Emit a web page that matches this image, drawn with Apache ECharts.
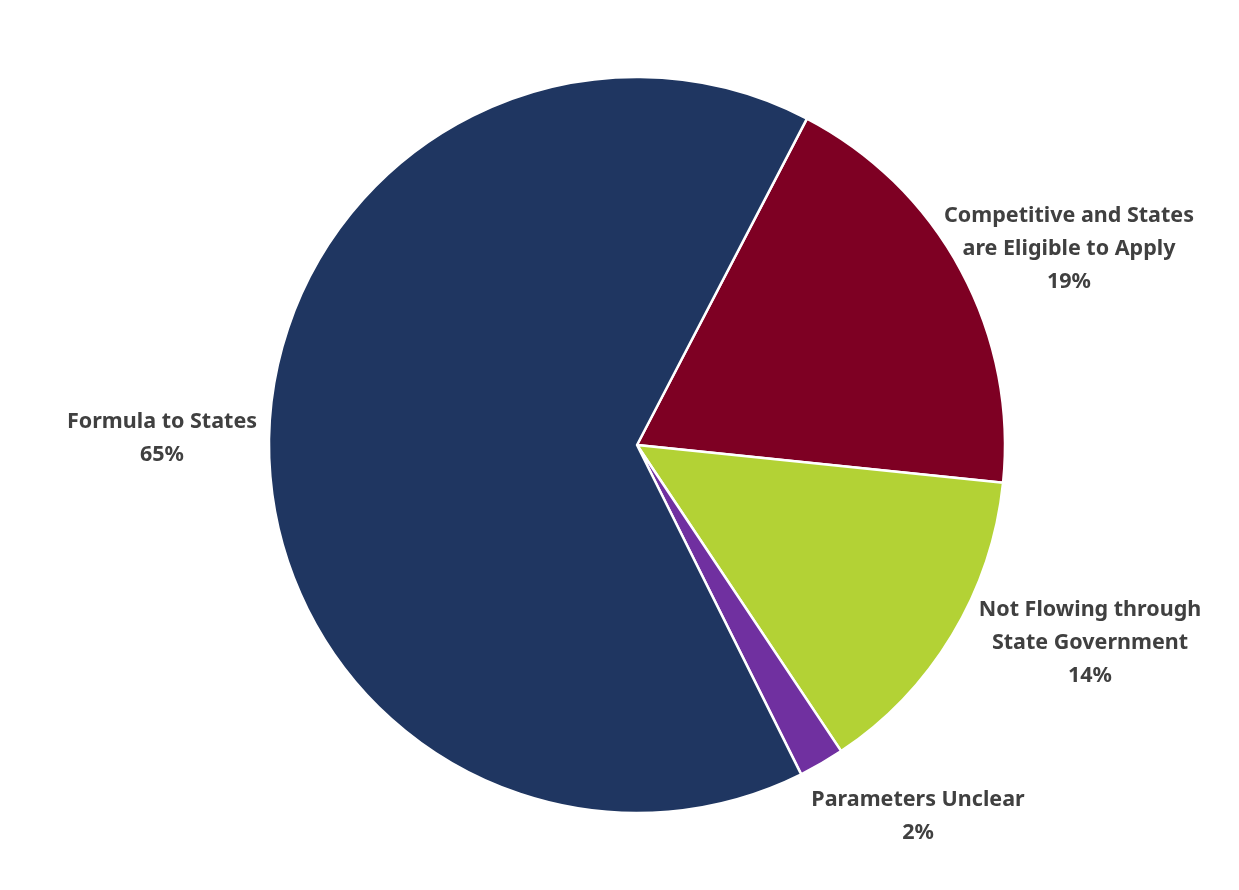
<!DOCTYPE html>
<html>
<head>
<meta charset="utf-8">
<title>Funding distribution</title>
<script src="https://cdn.jsdelivr.net/npm/echarts@6/dist/echarts.min.js"></script>
<style>
  html, body { margin: 0; padding: 0; background: #ffffff; }
  #chart { width: 1239px; height: 890px; }
</style>
</head>
<body>
<div id="chart"></div>
<script>
// Share of funding by how it reaches states (percent)
const categories = [
  'Competitive and States\nare Eligible to Apply',
  'Not Flowing through\nState Government',
  'Parameters Unclear',
  'Formula to States'
];
const shares = [19, 14, 2, 65];
const sliceColors = ['#7E0023', '#B3D235', '#7030A0', '#1F3661'];

// Where each label block is centred on the page
const labelAnchors = [
  [1069, 249],
  [1090, 643],
  [918, 816],
  [162, 438]
];

const chart = echarts.init(document.getElementById('chart'), null, { renderer: 'canvas' });

chart.setOption({
  backgroundColor: '#ffffff',
  animation: false,
  series: [{
    type: 'pie',
    center: [637, 445],
    radius: [0, 368],
    startAngle: 62.5,
    clockwise: true,
    avoidLabelOverlap: false,
    itemStyle: { borderColor: '#ffffff', borderWidth: 2.5 },
    label: {
      show: true,
      position: 'outside',
      formatter: '{b}\n{d}%',
      fontFamily: '"Noto Sans", Lato, sans-serif',
      fontWeight: 'bold',
      fontSize: 21.5,
      lineHeight: 33,
      color: '#404040',
      align: 'center'
    },
    labelLine: { show: false },
    labelLayout: function (params) {
      const p = labelAnchors[params.dataIndex];
      return { x: p[0], y: p[1], align: 'center', verticalAlign: 'middle' };
    },
    emphasis: { disabled: true },
    data: categories.map((name, i) => ({
      name: name,
      value: shares[i],
      itemStyle: { color: sliceColors[i] }
    }))
  }]
});
</script>
</body>
</html>
